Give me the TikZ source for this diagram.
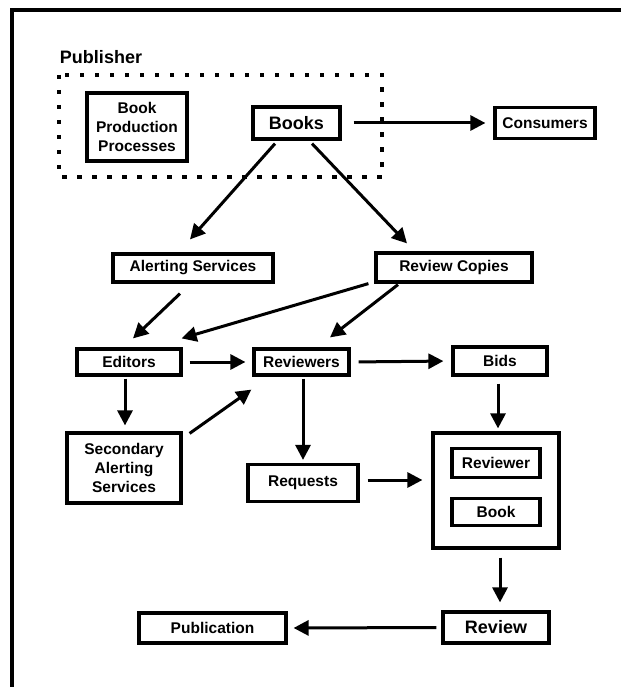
\documentclass[tikz,border=0pt]{standalone}
\usepackage{fontspec}
\setmainfont{Liberation Sans}
\usetikzlibrary{arrows.meta}

\begin{document}
\begin{tikzpicture}[x=1pt, y=-1pt,
    box/.style={draw, line width=3.2pt, inner sep=0pt, align=center,
        font=\bfseries\fontsize{15.5}{19}\selectfont},
    bigtext/.style={font=\bfseries\fontsize{18}{21}\selectfont},
    arrow/.style={line width=3pt, -{Triangle[length=15pt, width=15pt]}}]
    \useasboundingbox (0,0) rectangle (621,687);
    % frame
    \draw [line width=3.5pt] (621,10) -- (12,10) -- (12,687);

    % Publisher
    \node [bigtext] (publisher) at (101,57) {Publisher};
    \draw [line width=3.5pt, dash pattern=on 4.5pt off 10.5pt] (59,75) rectangle (382,177);
    \node [box, minimum width=100pt, minimum height=68pt] (production) at (137,127) {Book\\Production\\Processes};
    \node [box, bigtext, minimum width=87pt, minimum height=32pt] (books) at (296.5,123) {Books};
    \node [box, minimum width=100pt, minimum height=31pt] (consumers) at (545,123) {Consumers};

    % services and copies
    \node [box, minimum width=160pt, minimum height=28pt] (alerting) at (193,268) {Alerting Services};
    \node [box, minimum width=156pt, minimum height=29pt] (copies) at (454,267.5) {Review Copies};

    % middle row
    \node [box, minimum width=104pt, minimum height=26pt] (editors) at (129,362) {Editors};
    \node [box, minimum width=95pt, minimum height=26pt] (reviewers) at (301.5,362) {Reviewers};
    \node [box, minimum width=94pt, minimum height=28pt] (bids) at (500,361) {Bids};

    % lower part
    \node [box, minimum width=114pt, minimum height=70pt] (secondary) at (124,468) {Secondary\\Alerting\\Services};
    \node [box, minimum width=110pt, minimum height=37pt] (requests) at (303,483) {Requests};
    \node [box, minimum width=126pt, minimum height=115pt] (pair) at (496,490.5) {};
    \node [box, minimum width=88pt, minimum height=29pt] (reviewer) at (496,463) {Reviewer};
    \node [box, minimum width=88pt, minimum height=27pt] (book) at (496,512) {Book};
    \node [box, bigtext, minimum width=106pt, minimum height=31pt] (review) at (496,627.5) {Review};
    \node [box, minimum width=147pt, minimum height=30pt] (publication) at (212.5,628) {Publication};

    % arrows
    \draw [arrow, shorten <=12pt, shorten >=8pt] (books.east) -- (consumers.west);
    \draw [arrow] ([xshift=-21.5pt, yshift=-3pt]books.south) -- ([xshift=-3pt, yshift=13pt]alerting.north);
    \draw [arrow] ([xshift=15.5pt, yshift=-3pt]books.south) -- ([xshift=-47pt, yshift=8pt]copies.north);
    \draw [arrow] ([xshift=-13pt, yshift=-10pt]alerting.south) -- ([xshift=4pt, yshift=9pt]editors.north);
    \draw [arrow] ([xshift=-6pt]copies.south west) -- ([xshift=-1pt, yshift=9pt]editors.north east);
    \draw [arrow] ([xshift=-56pt, yshift=-1pt]copies.south) -- ([xshift=28.5pt, yshift=10pt]reviewers.north);
    \draw [arrow, shorten <=7pt, shorten >=7pt] (editors.east) -- (reviewers.west);
    \draw [arrow, shorten <=8pt, shorten >=8pt] (reviewers.east) -- (bids.west);
    \draw [arrow] ([xshift=-4pt, yshift=-2pt]editors.south) -- ([xshift=1pt, yshift=6pt]secondary.north);
    \draw [arrow] ([xshift=7pt, yshift=-2pt]secondary.north east) -- ([xshift=-1pt, yshift=-13pt]reviewers.south west);
    \draw [arrow, shorten <=2pt, shorten >=3pt] (reviewers.south -| requests.north) -- (requests.north);
    \draw [arrow, shorten <=7pt, shorten >=3pt] ([xshift=-2pt]bids.south) -- ([xshift=-2pt]bids.south |- pair.north);
    \draw [arrow, shorten <=8pt, shorten >=9pt] ([yshift=3pt]requests.east) -- ([yshift=3pt]requests.east -| pair.west);
    \draw [arrow, shorten <=8pt, shorten >=8pt] ([xshift=4pt]pair.south) -- ([xshift=4pt]pair.south |- review.north);
    \draw [arrow, shorten <=5pt, shorten >=6pt] (review.west) -- (publication.east);
\end{tikzpicture}
\end{document}
